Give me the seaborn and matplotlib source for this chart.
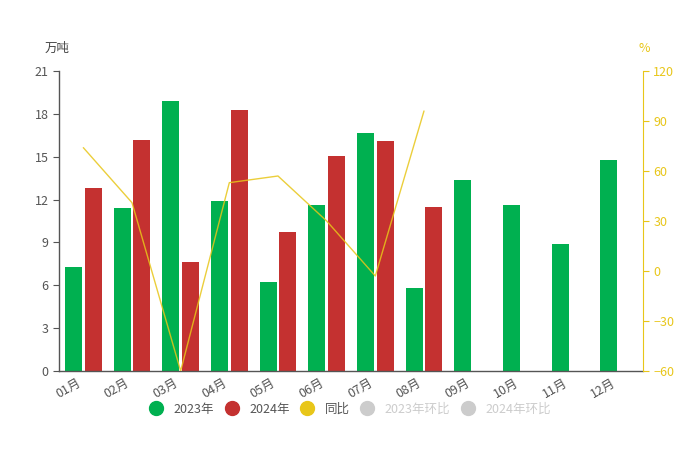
import numpy as np
import pandas as pd
import matplotlib.pyplot as plt
import matplotlib.transforms as mtransforms
import seaborn as sns
from matplotlib.lines import Line2D

months = ["01月", "02月", "03月", "04月", "05月", "06月", "07月", "08月", "09月", "10月", "11月", "12月"]
v2023 = [7.3, 11.4, 18.9, 11.9, 6.2, 11.6, 16.65, 5.8, 13.4, 11.6, 8.9, 14.8]
v2024 = [12.8, 16.2, 7.6, 18.3, 9.7, 15.05, 16.1, 11.5]
yoy = [74, 41, -60, 53, 57, 30, -3, 96]

GREEN = "#00b050"
RED = "#c43130"
GOLD = "#e8c619"
GREY = "#cccccc"


def build_frame():
    rows = []
    for m, v in zip(months, v2023):
        rows.append({"month": m, "year": "2023年", "value": v})
    for m, v in zip(months, v2024):
        rows.append({"month": m, "year": "2024年", "value": v})
    return pd.DataFrame(rows)


def main():
    sns.set_style("white")
    plt.rcParams["font.family"] = ["Noto Sans CJK SC", "DejaVu Sans"]

    df = build_frame()
    fig = plt.figure(figsize=(6.94, 4.49), dpi=100)
    ax = fig.add_axes([0.085, 0.1737, 0.8415, 0.6682])

    sns.barplot(data=df, x="month", y="value", hue="year", order=months,
                palette={"2023年": GREEN, "2024年": RED}, width=0.8, gap=0.13,
                saturation=1, linewidth=0, edgecolor="none",
                errorbar=None, legend=False, ax=ax)
    ax.set_xlim(-0.5, 11.5)
    ax.set_ylim(0, 21)
    ax.set_yticks(np.arange(0, 22, 3))
    ax.set_xlabel("")
    ax.set_ylabel("")

    # category boundary ticks, labels in the middle
    ax.set_xticks(np.arange(-0.5, 12, 1), minor=True)
    ax.tick_params(axis="x", which="minor", length=5, color="#555555", direction="out")
    ax.tick_params(axis="x", which="major", length=0, labelsize=9, labelcolor="#555555", pad=4)
    ax.tick_params(axis="y", length=4, color="#555555", labelsize=9, labelcolor="#555555", left=True)
    shift = mtransforms.ScaledTranslation(-5 / 72, 0, fig.dpi_scale_trans)
    for lbl in ax.get_xticklabels():
        lbl.set_rotation(30)
        lbl.set_ha("right")
        lbl.set_rotation_mode("anchor")
        lbl.set_transform(lbl.get_transform() + shift)

    for side in ["top", "right"]:
        ax.spines[side].set_visible(False)
    for side in ["left", "bottom"]:
        ax.spines[side].set_color("#555555")
        ax.spines[side].set_linewidth(1)

    ax2 = ax.twinx()
    line_df = pd.DataFrame({"month": months[:len(yoy)], "yoy": yoy})
    sns.lineplot(data=line_df, x="month", y="yoy", color=GOLD, linewidth=1.0,
                 alpha=0.85, sort=False, ax=ax2)
    ax2.set_ylim(-60, 120)
    ax2.set_yticks(np.arange(-60, 121, 30))
    ax2.set_ylabel("")
    ax2.set_xlabel("")
    ax2.tick_params(axis="y", length=4, color=GOLD, labelsize=9, labelcolor=GOLD, right=True)
    for side in ["top", "left", "bottom"]:
        ax2.spines[side].set_visible(False)
    ax2.spines["right"].set_color(GOLD)
    ax.set_xlim(-0.5, 11.5)

    fig.text(0.082, 0.885, "万吨", fontsize=9, color="#444444", ha="center")
    fig.text(0.928, 0.885, "%", fontsize=9, color=GOLD, ha="center")

    handles = [
        Line2D([], [], marker="o", linestyle="", markersize=10, color=GREEN),
        Line2D([], [], marker="o", linestyle="", markersize=10, color=RED),
        Line2D([], [], marker="o", linestyle="", markersize=10, color=GOLD),
        Line2D([], [], marker="o", linestyle="", markersize=10, color=GREY),
        Line2D([], [], marker="o", linestyle="", markersize=10, color=GREY),
    ]
    labels = ["2023年", "2024年", "同比", "2023年环比", "2024年环比"]
    leg = fig.legend(handles, labels, loc="center", bbox_to_anchor=(0.5, 0.089), ncol=5,
                     frameon=False, fontsize=9, handletextpad=0.4, columnspacing=0.4)
    for i, t in enumerate(leg.get_texts()):
        t.set_color("#555555" if i < 3 else GREY)

    fig.savefig("out.png", dpi=100)


if __name__ == "__main__":
    main()
